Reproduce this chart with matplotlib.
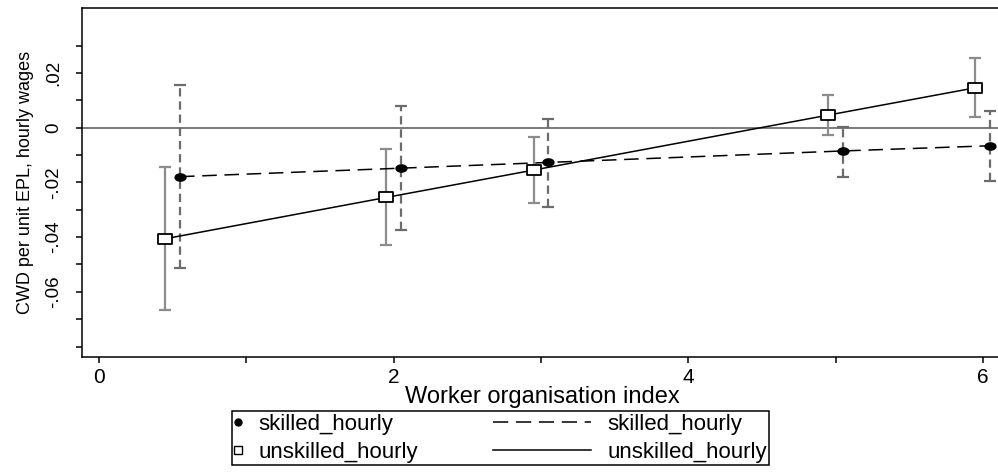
import matplotlib
matplotlib.use("Agg")
import matplotlib.pyplot as plt
from matplotlib.lines import Line2D
from matplotlib.path import Path
from matplotlib.transforms import Affine2D
from matplotlib.legend_handler import HandlerBase, HandlerLine2D

plt.rcParams['font.family'] = ['Liberation Sans', 'DejaVu Sans']
plt.rcParams['lines.scale_dashes'] = False

# ---------------- data ----------------
x_groups = [0.5, 2.0, 3.0, 5.0, 6.0]
offset = 0.05

skilled_est = [-0.0179, -0.0148, -0.0127, -0.0085, -0.0066]
skilled_lo = [-0.0512, -0.0374, -0.0289, -0.0179, -0.0194]
skilled_hi = [0.0156, 0.0080, 0.0033, 0.0004, 0.0062]

unskilled_est = [-0.0406, -0.0255, -0.0155, 0.0046, 0.0146]
unskilled_lo = [-0.0667, -0.0430, -0.0276, -0.0026, 0.0039]
unskilled_hi = [-0.0143, -0.0078, -0.0033, 0.0120, 0.0254]

x_major = [0, 2, 4, 6]
x_minor = [1, 3, 5]
y_major = [-0.06, -0.04, -0.02, 0.0, 0.02]
y_major_labels = ["-.06", "-.04", "-.02", "0", ".02"]
y_minor = [-0.08, -0.07, -0.05, -0.03, -0.01, 0.01, 0.03]

legend_labels = ["skilled_hourly", "unskilled_hourly", "skilled_hourly", "unskilled_hourly"]
xlabel = "Worker organisation index"
ylabel = "CWD per unit EPL, hourly wages"

# ---------------- figure ----------------
W, H = 998, 473
fig = plt.figure(figsize=(W / 100, H / 100), dpi=100)
ax_left, ax_right, ax_top, ax_bottom = 82, 1002, 8, 357
ax = fig.add_axes([ax_left / W, 1 - ax_bottom / H, (ax_right - ax_left) / W, (ax_bottom - ax_top) / H])

x0_px, px_per_unit = 99, 147.3
ax.set_xlim((ax_left - x0_px) / px_per_unit, (ax_right - x0_px) / px_per_unit)
y0_px, px_per_y = 127.7, 2735.0
ax.set_ylim(-(ax_bottom - y0_px) / px_per_y, (y0_px - ax_top) / px_per_y)

xs_sk = [x + offset for x in x_groups]
xs_un = [x - offset for x in x_groups]

# zero line
ax.axhline(0, color='#555555', lw=1.1, zorder=1)

# confidence intervals
err_un = [[e - l for e, l in zip(unskilled_est, unskilled_lo)],
          [h - e for e, h in zip(unskilled_est, unskilled_hi)]]
err_sk = [[e - l for e, l in zip(skilled_est, skilled_lo)],
          [h - e for e, h in zip(skilled_est, skilled_hi)]]

eb_un = ax.errorbar(xs_un, unskilled_est, yerr=err_un, fmt='none', ecolor='#8c8c8c',
                    elinewidth=1.6, capsize=4.2, capthick=1.6, zorder=2)
eb_sk = ax.errorbar(xs_sk, skilled_est, yerr=err_sk, fmt='none', ecolor='#6c6c6c',
                    elinewidth=1.6, capsize=4.0, capthick=1.6, zorder=2)
eb_sk[2][0].set_linestyle((0, (6, 3.5)))

ellipse = Path.unit_circle().transformed(Affine2D().scale(1.5, 1.0))
rect = Path([(-1.45, -1), (1.45, -1), (1.45, 1), (-1.45, 1), (-1.45, -1)],
            [Path.MOVETO, Path.LINETO, Path.LINETO, Path.LINETO, Path.CLOSEPOLY])

dash_main = (0, (10.5, 5.5))
ax.plot(xs_sk, skilled_est, color='black', lw=1.1, ls=dash_main, zorder=3)
ax.plot(xs_un, unskilled_est, color='black', lw=1.1, ls='-', zorder=3)
ax.plot(xs_sk, skilled_est, ls='none', marker=ellipse, ms=7.8, color='black', zorder=4)
ax.plot(xs_un, unskilled_est, ls='none', marker=rect, ms=9.5, mfc='white', mec='black',
        mew=1.3, zorder=4)

# axes styling
for s in ['left', 'bottom', 'top']:
    ax.spines[s].set_linewidth(1.1)
    ax.spines[s].set_color('black')
ax.spines['right'].set_visible(False)

ax.set_xticks(x_major)
ax.set_xticklabels([str(v) for v in x_major])
ax.set_xticks(x_minor, minor=True)
ax.set_yticks(y_major)
ax.set_yticklabels(y_major_labels)
ax.set_yticks(y_minor, minor=True)
ax.tick_params(which='both', direction='out', length=4, width=1.1, color='black')
ax.tick_params(axis='x', which='both', labelsize=15, pad=4)
ax.tick_params(axis='y', which='both', labelsize=13.5, pad=10, labelrotation=90)
for lbl in ax.get_yticklabels():
    lbl.set_va('center')

ax.set_xlabel(xlabel, fontsize=17)
ax.xaxis.set_label_coords(0.5, -0.083)
ax.set_ylabel(ylabel, fontsize=13)
ax.yaxis.set_label_coords(-0.052, 0.5)


# ---------------- legend ----------------
class LongLineHandler(HandlerBase):
    def __init__(self, x0, x1, **kw):
        super().__init__(**kw)
        self.x0, self.x1 = x0, x1

    def create_artists(self, legend, orig_handle, xdescent, ydescent, width, height,
                       fontsize, trans):
        y = height / 2 - ydescent
        ln = Line2D([self.x0 * fontsize, self.x1 * fontsize], [y, y])
        ln.update_from(orig_handle)
        ln.set_marker('')
        ln.set_transform(trans)
        return [ln]


h_sk_m = Line2D([], [], ls='none', marker='o', ms=5, color='black')
h_un_m = Line2D([], [], ls='none', marker='s', ms=6, mfc='white', mec='black', mew=1.0)
h_sk_l = Line2D([], [], color='black', lw=1.1, ls=(0, (11, 5.5)))
h_un_l = Line2D([], [], color='black', lw=1.1, ls='-')

leg_fs = 16
handler_line = LongLineHandler(-4.06, 0.35)
leg = fig.legend([h_sk_m, h_un_m, h_sk_l, h_un_l], legend_labels, ncol=2,
                 loc='upper left', bbox_to_anchor=(232 / W, 1 - 411 / H),
                 fontsize=leg_fs, frameon=True, fancybox=False, framealpha=1,
                 edgecolor='black', borderpad=0.12, handlelength=0.34,
                 handletextpad=0.73, columnspacing=7.44, labelspacing=0.32,
                 borderaxespad=0, numpoints=1,
                 handler_map={h_sk_l: handler_line, h_un_l: handler_line,
                              h_sk_m: HandlerLine2D(numpoints=1),
                              h_un_m: HandlerLine2D(numpoints=1)})
leg.get_frame().set_linewidth(1.1)

fig.savefig("out.png", dpi=100)
